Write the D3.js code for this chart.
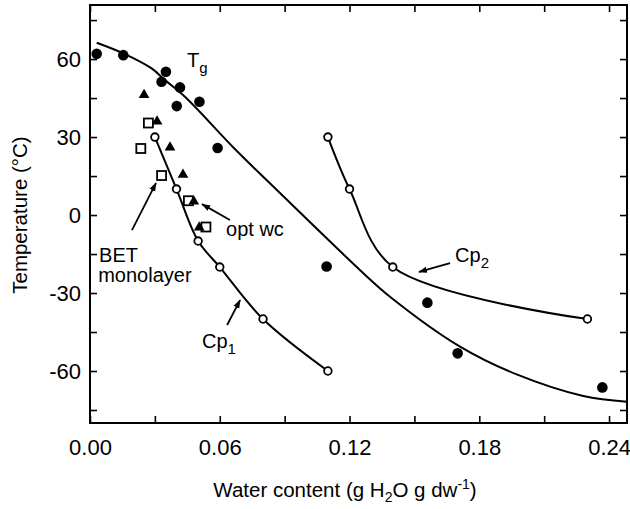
<!DOCTYPE html>
<html>
<head>
<meta charset="utf-8">
<script src="https://cdn.jsdelivr.net/npm/d3@7"></script>
<style>
  body { margin: 0; background: #fff; }
  svg { font-family: "Liberation Sans", Arial, Helvetica, sans-serif; }
</style>
</head>
<body>
<svg id="svg"></svg>
<script>
// Tg measurements (filled circles)
const tgWater = [0.0031, 0.0154, 0.0331, 0.0351, 0.0416, 0.0401, 0.0506, 0.0590, 0.1094, 0.1560, 0.1700, 0.2369];
const tgTemp  = [62.0, 61.5, 51.3, 55.1, 49.1, 41.9, 43.6, 25.8, -19.8, -33.7, -53.2, -66.3];

// fitted Tg curve
const tgFitWater = [0.0031, 0.0154, 0.0285, 0.0347, 0.0439, 0.0663, 0.0832, 0.1249, 0.1387, 0.1711, 0.1973, 0.2281, 0.2483];
const tgFitTemp  = [66.3, 62.2, 56.4, 51.9, 45.5, 26.0, 12.2, -21.2, -31.4, -50.6, -61.3, -69.6, -71.8];

// filled triangles
const triWater = [0.0250, 0.0310, 0.0370, 0.0430, 0.0480, 0.0505];
const triTemp  = [46.2, 36.0, 26.0, 15.5, 5.2, -4.8];

// open squares
const sqWater = [0.0270, 0.0235, 0.0331, 0.0455, 0.0536];
const sqTemp  = [35.4, 25.6, 15.2, 5.5, -4.6];

// Cp1 and Cp2 (open circles joined by lines)
const cp1Water = [0.03, 0.04, 0.05, 0.06, 0.08, 0.11];
const cp1Temp  = [30, 10, -10, -20, -40, -60];
const cp2Water = [0.11, 0.12, 0.14, 0.23];
const cp2Temp  = [30, 10, -20, -40];

// ticks
const xTicks = [0, 0.03, 0.06, 0.09, 0.12, 0.15, 0.18, 0.21, 0.24];
const xLabels = ["0.00", "", "0.06", "", "0.12", "", "0.18", "", "0.24"];
const yTicks = [-75, -60, -45, -30, -15, 0, 15, 30, 45, 60, 75];
const yLabels = ["", "-60", "", "-30", "", "0", "", "30", "", "60", ""];

const width = 630;
const height = 509;
const margin = { top: 5, right: 3, bottom: 86, left: 90 };

let svg = d3.select("#svg").attr("width", width).attr("height", height);

let xScale = d3.scaleLinear().domain([0, 0.2483]).range([margin.left, width - margin.right]);
let yScale = d3.scaleLinear().domain([-80, 80.8]).range([height - margin.bottom, margin.top]);

const zip = (xs, ys) => xs.map((x, i) => ({ x: x, y: ys[i] }));

// axes - ticks point inward on all four sides
const tickLen = 7;
svg.append("g")
    .attr("transform", "translate(0," + yScale.range()[0] + ")")
    .call(d3.axisBottom(xScale).tickValues(xTicks).tickSizeInner(-tickLen).tickSizeOuter(0).tickPadding(16)
        .tickFormat((d, i) => xLabels[i]))
    .call(g => g.select(".domain").remove())
    .selectAll("text").style("font-size", "22px").attr("fill", "#000");

svg.append("g")
    .attr("transform", "translate(0," + yScale.range()[1] + ")")
    .call(d3.axisTop(xScale).tickValues(xTicks).tickSizeInner(-tickLen).tickSizeOuter(0).tickFormat(""))
    .call(g => g.select(".domain").remove());

svg.append("g")
    .attr("transform", "translate(" + xScale.range()[0] + ",0)")
    .call(d3.axisLeft(yScale).tickValues(yTicks).tickSizeInner(-tickLen).tickSizeOuter(0).tickPadding(9)
        .tickFormat((d, i) => yLabels[i]))
    .call(g => g.select(".domain").remove())
    .selectAll("text").style("font-size", "22px").attr("fill", "#000");

svg.append("g")
    .attr("transform", "translate(" + xScale.range()[1] + ",0)")
    .call(d3.axisRight(yScale).tickValues(yTicks).tickSizeInner(-tickLen).tickSizeOuter(0).tickFormat(""))
    .call(g => g.select(".domain").remove());

svg.selectAll(".tick line").attr("stroke", "#000").attr("stroke-width", 1.6);

svg.append("rect")
    .attr("x", xScale.range()[0])
    .attr("y", yScale.range()[1])
    .attr("width", xScale.range()[1] - xScale.range()[0])
    .attr("height", yScale.range()[0] - yScale.range()[1])
    .attr("fill", "none")
    .attr("stroke", "#000")
    .attr("stroke-width", 2);

// axis titles
let xTitle = svg.append("text")
    .attr("x", 345)
    .attr("y", 497)
    .attr("text-anchor", "middle")
    .style("font-size", "20.5px");
xTitle.append("tspan").text("Water content (g H");
xTitle.append("tspan").attr("dy", 5).style("font-size", "14px").text("2");
xTitle.append("tspan").attr("dy", -5).text("O g dw");
xTitle.append("tspan").attr("dy", -8).style("font-size", "14px").text("-1");
xTitle.append("tspan").attr("dy", 8).text(")");

svg.append("text")
    .attr("transform", "translate(27," + yScale(0) + ") rotate(-90)")
    .attr("text-anchor", "middle")
    .style("font-size", "20.5px")
    .text("Temperature (°C)");

// lines
const line = d3.line().x(d => xScale(d.x)).y(d => yScale(d.y)).curve(d3.curveCatmullRom.alpha(0.5));

[zip(tgFitWater, tgFitTemp), zip(cp1Water, cp1Temp), zip(cp2Water, cp2Temp)].forEach(series => {
    svg.append("path")
        .datum(series)
        .attr("d", line)
        .attr("fill", "none")
        .attr("stroke", "#000")
        .attr("stroke-width", 2);
});

// markers
svg.append("g").selectAll("circle")
    .data(zip(tgWater, tgTemp))
    .enter().append("circle")
    .attr("cx", d => xScale(d.x))
    .attr("cy", d => yScale(d.y))
    .attr("r", 5.3)
    .attr("fill", "#000");

svg.append("g").selectAll("rect")
    .data(zip(sqWater, sqTemp))
    .enter().append("rect")
    .attr("x", d => xScale(d.x) - 4.5)
    .attr("y", d => yScale(d.y) - 4.5)
    .attr("width", 9)
    .attr("height", 9)
    .attr("fill", "#fff")
    .attr("stroke", "#000")
    .attr("stroke-width", 1.8);

svg.append("g").selectAll("path")
    .data(zip(triWater, triTemp))
    .enter().append("path")
    .attr("d", d3.symbol().type(d3.symbolTriangle).size(50))
    .attr("transform", d => "translate(" + xScale(d.x) + "," + yScale(d.y) + ")")
    .attr("fill", "#000");

svg.append("g").selectAll("circle")
    .data(zip(cp1Water, cp1Temp).concat(zip(cp2Water, cp2Temp)))
    .enter().append("circle")
    .attr("cx", d => xScale(d.x))
    .attr("cy", d => yScale(d.y))
    .attr("r", 3.8)
    .attr("fill", "#fff")
    .attr("stroke", "#000")
    .attr("stroke-width", 1.8);

// annotations
svg.append("defs").append("marker")
    .attr("id", "arrow")
    .attr("viewBox", "0 0 10 10")
    .attr("refX", 9).attr("refY", 5)
    .attr("markerWidth", 5).attr("markerHeight", 5)
    .attr("orient", "auto")
    .append("path")
    .attr("d", "M0,1.5 L10,5 L0,8.5 Z")
    .attr("fill", "#000");

const arrows = [
    [0.0194, -5.8, 0.0305, 12.3],   // BET monolayer
    [0.0647, -1.9, 0.0518, 4.2],    // opt wc
    [0.0634, -42.3, 0.0694, -32.7], // Cp1
    [0.1665, -18.5, 0.1521, -21.9]  // Cp2
];
svg.append("g").selectAll("line")
    .data(arrows)
    .enter().append("line")
    .attr("x1", d => xScale(d[0])).attr("y1", d => yScale(d[1]))
    .attr("x2", d => xScale(d[2])).attr("y2", d => yScale(d[3]))
    .attr("stroke", "#000")
    .attr("stroke-width", 1.8)
    .attr("marker-end", "url(#arrow)");

function subLabel(x, y, main, sub) {
    let t = svg.append("text")
        .attr("x", xScale(x))
        .attr("y", yScale(y))
        .style("font-size", "20px");
    t.append("tspan").text(main);
    t.append("tspan").attr("dy", 6).style("font-size", "15px").text(sub);
}

subLabel(0.0449, 57, "T", "g");
subLabel(0.0518, -51.2, "Cp", "1");
subLabel(0.1688, -18.1, "Cp", "2");

svg.append("text")
    .attr("x", xScale(0.0042)).attr("y", yScale(-18.1))
    .style("font-size", "20px")
    .text("BET");
svg.append("text")
    .attr("x", xScale(0.0038)).attr("y", yScale(-25.8))
    .style("font-size", "20px")
    .text("monolayer");
svg.append("text")
    .attr("x", xScale(0.0629)).attr("y", yScale(-8.1))
    .style("font-size", "20px")
    .text("opt wc");
</script>
</body>
</html>
